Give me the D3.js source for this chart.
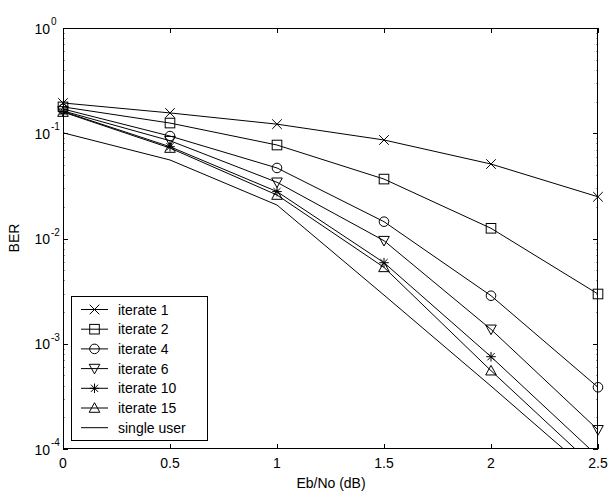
<!DOCTYPE html>
<html><head><meta charset="utf-8">
<script src="https://cdn.jsdelivr.net/npm/d3@7"></script>
<style>body{margin:0;background:#fff}svg{display:block}text{font-family:"Liberation Sans",Arial,sans-serif;fill:#000}</style>
</head><body><svg id="c" width="611" height="494"></svg>
<script>
const snr = [0, 0.5, 1, 1.5, 2, 2.5];
const iter1 = [0.194, 0.156, 0.122, 0.0863, 0.051, 0.0249];
const iter2 = [0.178, 0.125, 0.0773, 0.0367, 0.0125, 0.00297];
const iter4 = [0.170, 0.094, 0.0468, 0.01445, 0.00286, 0.000386];
const iter6 = [0.163, 0.0849, 0.0342, 0.00953, 0.00137, 0.000152];
const iter10 = [0.161, 0.0745, 0.0279, 0.00589, 0.000753, 0.000085];
const iter15 = [0.159, 0.0724, 0.0259, 0.00532, 0.000555, 0.000063];
const single = [0.101, 0.0557, 0.0208, 0.0029, 0.000396, 0.000052];
const seriesNames = ["iterate 1", "iterate 2", "iterate 4", "iterate 6", "iterate 10", "iterate 15", "single user"];
const seriesMarkers = ["x", "square", "circle", "tridown", "star", "triup", "none"];
const seriesData = [iter1, iter2, iter4, iter6, iter10, iter15, single];
const xTicks = [0, 0.5, 1, 1.5, 2, 2.5];
const yTickExp = [0, -1, -2, -3, -4];

const svg = d3.select("#c");
const L = 63, T = 28, R = 598, B = 449;
const x = d3.scaleLinear().domain([0, 2.5]).range([L, R]);
const y = d3.scaleLog().domain([1e-4, 1]).range([B, T]);

svg.append("defs").append("clipPath").attr("id", "clip")
  .append("rect").attr("x", L).attr("y", T).attr("width", R - L).attr("height", B - T);

const g = svg.append("g").attr("stroke", "#000").attr("stroke-width", 1).attr("fill", "none");
xTicks.forEach(v => {
  const px = Math.round(x(v)) + 0.5;
  g.append("line").attr("x1", px).attr("x2", px).attr("y1", B).attr("y2", B - 5);
  g.append("line").attr("x1", px).attr("x2", px).attr("y1", T).attr("y2", T + 5);
});
for (let e = -4; e <= 0; e++) {
  const py = Math.round(y(Math.pow(10, e))) + 0.5;
  g.append("line").attr("x1", L).attr("x2", L + 5).attr("y1", py).attr("y2", py);
  g.append("line").attr("x1", R).attr("x2", R - 5).attr("y1", py).attr("y2", py);
  if (e < 0) for (let m = 2; m <= 9; m++) {
    const pm = Math.round(y(m * Math.pow(10, e))) + 0.5;
    g.append("line").attr("x1", L).attr("x2", L + 2).attr("y1", pm).attr("y2", pm).attr("stroke", "#999");
    g.append("line").attr("x1", R).attr("x2", R - 2).attr("y1", pm).attr("y2", pm).attr("stroke", "#999");
  }
}

xTicks.forEach(v => {
  svg.append("text").attr("x", x(v)).attr("y", 468).attr("text-anchor", "middle")
    .attr("font-size", 14).text(String(v));
});
yTickExp.forEach(e => {
  svg.append("text").attr("x", 50).attr("y", y(Math.pow(10, e)) + 5.5).attr("text-anchor", "end").attr("font-size", 14).text("10");
  svg.append("text").attr("x", 51).attr("y", y(Math.pow(10, e)) - 3).attr("font-size", 10).text(String(e));
});
svg.append("text").attr("x", 331).attr("y", 488).attr("text-anchor", "middle").attr("font-size", 14).text("Eb/No (dB)");
svg.append("text").attr("transform", "translate(19,238) rotate(-90)").attr("text-anchor", "middle").attr("font-size", 14).text("BER");

function drawMarker(sel, type, cx, cy) {
  const s = 4.8;
  if (type === "x") {
    sel.append("path").attr("d", `M${cx-s},${cy-s}L${cx+s},${cy+s}M${cx-s},${cy+s}L${cx+s},${cy-s}`);
  } else if (type === "square") {
    sel.append("rect").attr("x", cx - s).attr("y", cy - s).attr("width", 2 * s).attr("height", 2 * s);
  } else if (type === "circle") {
    sel.append("circle").attr("cx", cx).attr("cy", cy).attr("r", s);
  } else if (type === "tridown") {
    sel.append("path").attr("d", `M${cx-s-0.5},${cy-s+0.5}L${cx+s+0.5},${cy-s+0.5}L${cx},${cy+s+0.5}Z`);
  } else if (type === "triup") {
    sel.append("path").attr("d", `M${cx-s-0.5},${cy+s-0.5}L${cx+s+0.5},${cy+s-0.5}L${cx},${cy-s-0.5}Z`);
  } else if (type === "star") {
    const a = s * 0.75;
    sel.append("path").attr("d", `M${cx-s},${cy}L${cx+s},${cy}M${cx},${cy-s}L${cx},${cy+s}M${cx-a},${cy-a}L${cx+a},${cy+a}M${cx-a},${cy+a}L${cx+a},${cy-a}`);
  }
}

const line = d3.line().x((d, i) => x(snr[i])).y(d => y(d));
const lines = svg.append("g").attr("clip-path", "url(#clip)").attr("fill", "none").attr("stroke", "#000").attr("stroke-width", 1);
const marks = svg.append("g").attr("fill", "none").attr("stroke", "#000").attr("stroke-width", 1);
seriesData.forEach((arr, k) => {
  lines.append("path").attr("d", line(arr));
  if (seriesMarkers[k] !== "none") arr.forEach((v, i) => {
    if (v >= 1e-4) drawMarker(marks, seriesMarkers[k], x(snr[i]), y(v));
  });
});

svg.append("rect").attr("x", L + 0.5).attr("y", T + 0.5).attr("width", R - L - 1).attr("height", B - T - 1)
  .attr("fill", "none").attr("stroke", "#000").attr("stroke-width", 1);

const lg = svg.append("g");
lg.append("rect").attr("x", 71.5).attr("y", 296.5).attr("width", 136).attr("height", 144)
  .attr("fill", "#fff").attr("stroke", "#000").attr("stroke-width", 1);
const lm = lg.append("g").attr("fill", "none").attr("stroke", "#000").attr("stroke-width", 1);
seriesNames.forEach((name, k) => {
  const cy = 309.5 + k * 19.7;
  lm.append("line").attr("x1", 81).attr("x2", 108).attr("y1", cy).attr("y2", cy);
  drawMarker(lm, seriesMarkers[k], 94.5, cy);
  lg.append("text").attr("x", 118).attr("y", cy + 5).attr("font-size", 14).text(name);
});
</script></body></html>
